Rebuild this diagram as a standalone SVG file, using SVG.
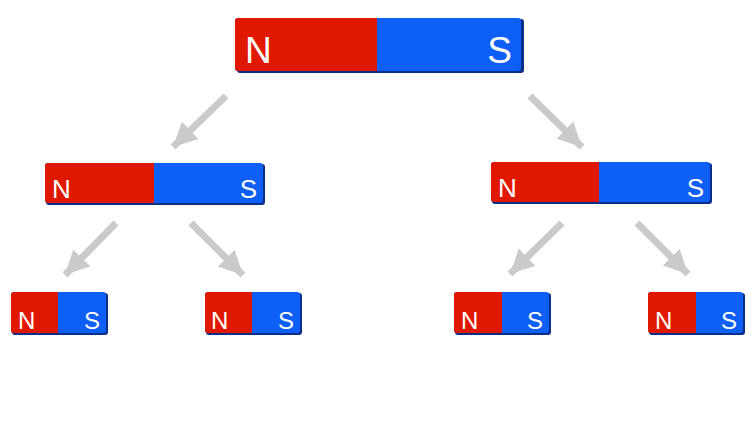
<svg xmlns="http://www.w3.org/2000/svg" width="753" height="433" viewBox="0 0 753 433">
<defs>
<style>
.n{fill:#e11800}
.s{fill:#0d5ff6}
.sh{fill:#0b2f86}
.t{fill:#ffffff;font-family:"Liberation Sans",Arial,sans-serif}
.c{stroke:#cacaca;stroke-width:7;fill:none}
</style>
<marker id="ah" markerUnits="userSpaceOnUse" markerWidth="26" markerHeight="26" viewBox="0 0 26 26" refX="24" refY="13" orient="auto">
<path d="M0,1 L24,13 L0,25 Z" fill="#cacaca"/>
</marker>
</defs>
<rect width="753" height="433" fill="#ffffff"/>
<g id="connectors">
<line class="c" x1="226" y1="96" x2="173" y2="147" marker-end="url(#ah)"/>
<line class="c" x1="530" y1="96" x2="582" y2="147" marker-end="url(#ah)"/>
<line class="c" x1="116" y1="223" x2="65" y2="275" marker-end="url(#ah)"/>
<line class="c" x1="191" y1="223" x2="243" y2="275" marker-end="url(#ah)"/>
<line class="c" x1="562" y1="223" x2="510" y2="274" marker-end="url(#ah)"/>
<line class="c" x1="637" y1="223" x2="688" y2="274" marker-end="url(#ah)"/>
</g>
<g id="magnet-top">
<rect class="sh" x="237" y="19" width="287" height="54" rx="3"/>
<rect class="s" x="235" y="18" width="286" height="53" rx="3"/>
<path class="n" d="M377,18 H238 A3,3 0 0 0 235,21 V68 A3,3 0 0 0 238,71 H377 Z"/>
<text class="t" x="245" y="63" font-size="37">N</text>
<text class="t" x="512" y="63" font-size="37" text-anchor="end">S</text>
</g>
<g id="magnet-mid-left">
<rect class="sh" x="46" y="164" width="219" height="41" rx="3"/>
<rect class="s" x="45" y="163" width="218" height="40" rx="3"/>
<path class="n" d="M154,163 H48 A3,3 0 0 0 45,166 V200 A3,3 0 0 0 48,203 H154 Z"/>
<text class="t" x="52" y="198" font-size="26">N</text>
<text class="t" x="257" y="198" font-size="26" text-anchor="end">S</text>
</g>
<g id="magnet-mid-right">
<rect class="sh" x="492" y="163" width="220" height="41" rx="3"/>
<rect class="s" x="491" y="162" width="219" height="40" rx="3"/>
<path class="n" d="M599,162 H494 A3,3 0 0 0 491,165 V199 A3,3 0 0 0 494,202 H599 Z"/>
<text class="t" x="498" y="197" font-size="26">N</text>
<text class="t" x="704" y="197" font-size="26" text-anchor="end">S</text>
</g>
<g id="magnet-b1">
<rect class="sh" x="12" y="293" width="96" height="42" rx="3"/>
<rect class="s" x="11" y="292" width="95" height="41" rx="3"/>
<path class="n" d="M58,292 H14 A3,3 0 0 0 11,295 V330 A3,3 0 0 0 14,333 H58 Z"/>
<text class="t" x="18" y="329" font-size="24">N</text>
<text class="t" x="100" y="329" font-size="24" text-anchor="end">S</text>
</g>
<g id="magnet-b2">
<rect class="sh" x="206" y="293" width="96" height="42" rx="3"/>
<rect class="s" x="205" y="292" width="95" height="41" rx="3"/>
<path class="n" d="M252,292 H208 A3,3 0 0 0 205,295 V330 A3,3 0 0 0 208,333 H252 Z"/>
<text class="t" x="211" y="329" font-size="24">N</text>
<text class="t" x="294" y="329" font-size="24" text-anchor="end">S</text>
</g>
<g id="magnet-b3">
<rect class="sh" x="455" y="293" width="96" height="42" rx="3"/>
<rect class="s" x="454" y="292" width="95" height="41" rx="3"/>
<path class="n" d="M502,292 H457 A3,3 0 0 0 454,295 V330 A3,3 0 0 0 457,333 H502 Z"/>
<text class="t" x="461" y="329" font-size="24">N</text>
<text class="t" x="543" y="329" font-size="24" text-anchor="end">S</text>
</g>
<g id="magnet-b4">
<rect class="sh" x="649" y="293" width="96" height="42" rx="3"/>
<rect class="s" x="648" y="292" width="95" height="41" rx="3"/>
<path class="n" d="M696,292 H651 A3,3 0 0 0 648,295 V330 A3,3 0 0 0 651,333 H696 Z"/>
<text class="t" x="655" y="329" font-size="24">N</text>
<text class="t" x="737" y="329" font-size="24" text-anchor="end">S</text>
</g>
</svg>
